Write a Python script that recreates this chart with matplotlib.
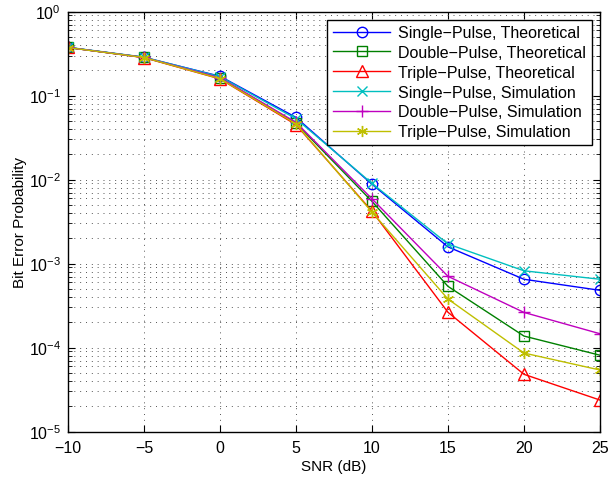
import matplotlib
matplotlib.use("Agg")
import matplotlib.pyplot as plt
from matplotlib.ticker import LogLocator, NullFormatter

snr_db = [-10, -5, 0, 5, 10, 15, 20, 25]

single_theory = [0.374, 0.285, 0.170, 0.055, 8.8e-3, 1.58e-3, 6.5e-4, 4.8e-4]
double_theory = [0.374, 0.285, 0.162, 0.047, 5.5e-3, 5.35e-4, 1.37e-4, 8.1e-5]
triple_theory = [0.374, 0.283, 0.158, 0.045, 4.2e-3, 2.63e-4, 4.8e-5, 2.37e-5]
single_sim = [0.376, 0.287, 0.168, 0.053, 9.0e-3, 1.71e-3, 8.2e-4, 6.5e-4]
double_sim = [0.374, 0.285, 0.163, 0.048, 5.9e-3, 7.05e-4, 2.62e-4, 1.46e-4]
triple_sim = [0.373, 0.284, 0.159, 0.046, 4.1e-3, 3.78e-4, 8.6e-5, 5.4e-5]

asterisk = (6, 2, 0)
series = [
    ("Single\u2212Pulse, Theoretical", single_theory, "#0000ff", "o", 7.5),
    ("Double\u2212Pulse, Theoretical", double_theory, "#008000", "s", 7),
    ("Triple\u2212Pulse, Theoretical", triple_theory, "#ff0000", "^", 8),
    ("Single\u2212Pulse, Simulation", single_sim, "#00bfbf", "x", 6.5),
    ("Double\u2212Pulse, Simulation", double_sim, "#bf00bf", "+", 8),
    ("Triple\u2212Pulse, Simulation", triple_sim, "#bfbf00", asterisk, 8),
]

plt.rcParams["font.family"] = ["Liberation Sans", "DejaVu Sans"]
plt.rcParams["font.size"] = 11.5
plt.rcParams["mathtext.fontset"] = "custom"
plt.rcParams["mathtext.rm"] = "Liberation Sans"

fig = plt.figure(figsize=(6.10, 4.81), dpi=100)
ax = fig.add_axes([0.1115, 0.1008, 0.872, 0.873])

for label, vals, color, marker, ms in series:
    ax.plot(
        snr_db,
        vals,
        color=color,
        marker=marker,
        markersize=ms,
        markerfacecolor="none",
        markeredgecolor=color,
        markeredgewidth=1.0,
        linewidth=1.0,
        label=label,
    )

ax.set_yscale("log")
ax.set_xlim(-10, 25)
ax.set_ylim(1e-5, 1)
ax.set_xticks(snr_db)
ax.set_xticklabels([str(v).replace("-", "\u2212") for v in snr_db])
ax.yaxis.set_major_locator(LogLocator(base=10, numticks=10))
ax.yaxis.set_minor_locator(LogLocator(base=10, subs=range(2, 10), numticks=20))
ax.yaxis.set_minor_formatter(NullFormatter())

dots = (0, (1, 5))
ax.grid(True, which="major", linestyle=dots, color="#555555", linewidth=0.7)
ax.grid(True, which="minor", axis="y", linestyle=dots, color="#555555", linewidth=0.7)

ax.tick_params(which="both", direction="in", top=True, right=True)
ax.tick_params(which="major", length=5)
ax.tick_params(which="minor", length=3)
ax.tick_params(axis="x", pad=6)
ax.tick_params(axis="y", pad=5)
for spine in ax.spines.values():
    spine.set_linewidth(1.0)

ax.set_xlabel("SNR (dB)", fontsize=11, labelpad=3)
ax.set_ylabel("Bit Error Probability", fontsize=11, labelpad=1)

leg = ax.legend(
    loc="upper right",
    fontsize=11.5,
    frameon=True,
    fancybox=False,
    framealpha=1,
    edgecolor="black",
    borderaxespad=0.5,
    handlelength=3.6,
    handletextpad=0.5,
    labelspacing=0.3,
    borderpad=0.35,
)
leg.get_frame().set_linewidth(1.0)

fig.savefig("out.png", dpi=100)
